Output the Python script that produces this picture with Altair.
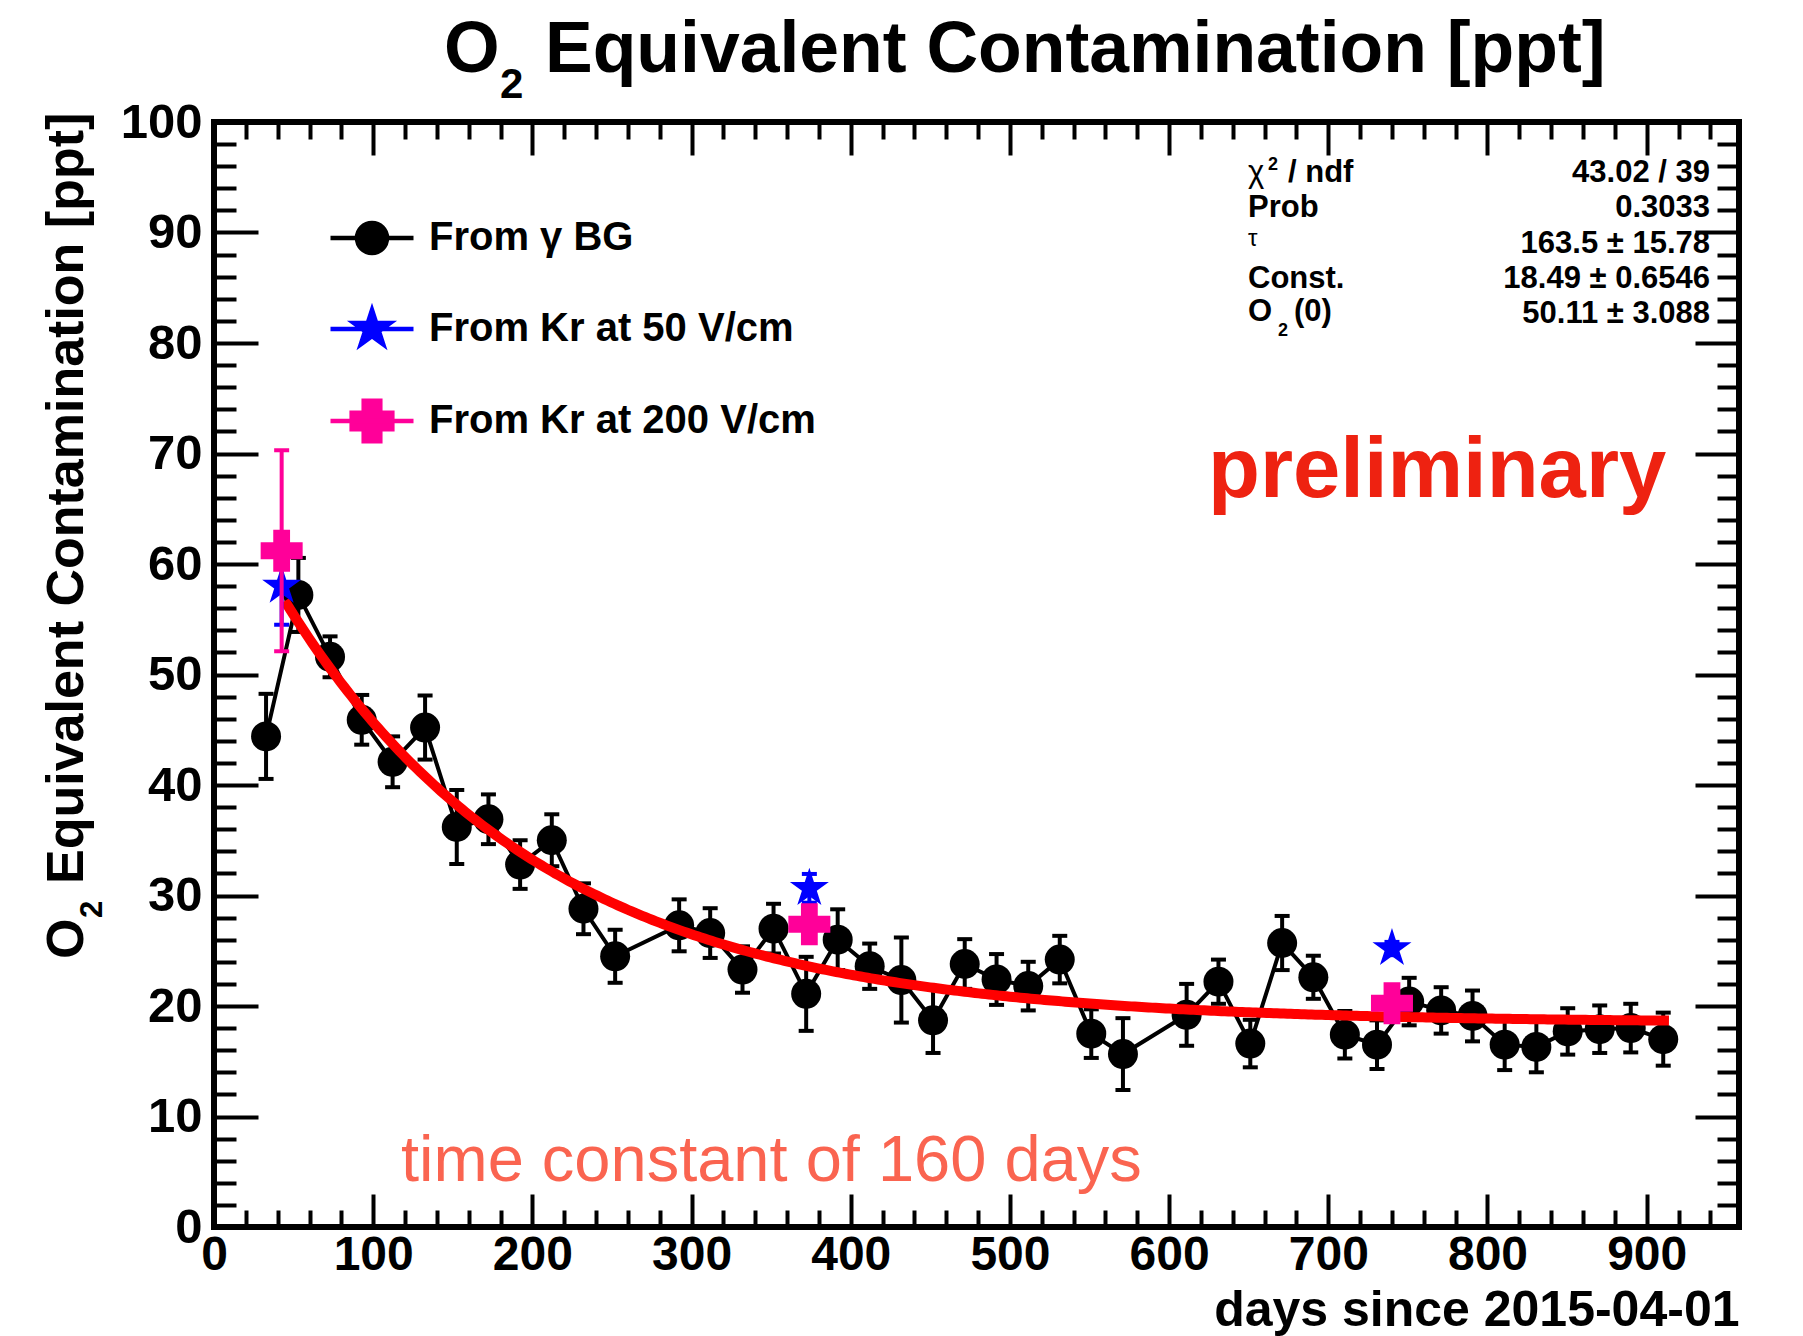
import altair as alt
import numpy as np
import pandas as pd

# ---- O2-equivalent contamination from the gamma background (20-day bins) ----
days_bg = [32.7, 53.0, 72.9, 92.8, 112.2, 132.6, 152.5, 172.4, 192.3, 212.2,
           232.1, 252.0, 292.2, 311.7, 332.0, 351.5, 372.0, 391.8, 411.9, 431.8,
           451.7, 471.6, 491.6, 511.5, 531.3, 551.1, 571.0, 611.0, 631.0, 651.0,
           671.0, 690.6, 710.4, 730.6, 750.8, 770.9, 790.6, 810.8, 830.7, 850.4,
           870.5, 890.0, 910.4]
o2_bg = [44.4, 57.2, 51.6, 45.9, 42.1, 45.2, 36.2, 36.9, 32.8, 35.0,
         28.8, 24.5, 27.3, 26.6, 23.3, 27.0, 21.1, 26.0, 23.6, 22.35,
         18.7, 23.8, 22.4, 21.8, 24.2, 17.5, 15.65, 19.2, 22.2, 16.6,
         25.7, 22.6, 17.4, 16.5, 20.4, 19.6, 19.1, 16.5, 16.3, 17.7,
         17.9, 18.0, 17.0]
err_bg = [3.85, 3.35, 1.85, 2.25, 2.3, 2.9, 3.35, 2.25, 2.2, 2.35,
          2.3, 2.4, 2.35, 2.25, 2.1, 2.25, 3.35, 2.75, 2.05, 3.85,
          2.95, 2.25, 2.3, 2.2, 2.15, 2.2, 3.25, 2.8, 2.0, 2.15,
          2.45, 1.95, 2.15, 2.2, 2.15, 2.1, 2.3, 2.3, 2.3, 2.1,
          2.15, 2.2, 2.4]

# ---- Kr calibration runs ----
days_kr50 = [42.5, 374.0, 740.0]
o2_kr50 = [58.0, 30.65, 25.2]
err_kr50 = [3.5, 1.3, 0.6]

days_kr200 = [42.5, 374.0, 740.0]
o2_kr200 = [61.2, 27.4, 20.25]
err_kr200 = [9.1, 1.0, 1.0]

# ---- exponential fit: Const + O2(0) * exp(-t / tau) ----
fit_tau = 163.5
fit_const = 18.49
fit_o2_0 = 50.11
fit_range = [44.5, 914.0]

# ---- axis ticks ----
x_major = list(range(0, 901, 100))
x_minor = [v for v in range(0, 960, 20) if v % 100]
y_major = list(range(0, 101, 10))
y_minor = [v for v in range(0, 101, 2) if v % 10]

legend_names = ["From \u03b3 BG", "From Kr at 50 V/cm", "From Kr at 200 V/cm"]
legend_colors = ["#000000", "#0000ff", "#ff0099"]

W, H = 1525, 1105
X_MAX = 958
FONT = "Liberation Sans"
BLUE, PINK = "#0000ff", "#ff0099"


def frame(days, vals, errs):
    return pd.DataFrame({
        "day": days, "o2": vals,
        "lo": [v - e for v, e in zip(vals, errs)],
        "hi": [v + e for v, e in zip(vals, errs)],
    })


bg = frame(days_bg, o2_bg, err_bg)
kr50 = frame(days_kr50, o2_kr50, err_kr50)
kr200 = frame(days_kr200, o2_kr200, err_kr200)

t_fit = np.linspace(fit_range[0], fit_range[1], 400)
fit_df = pd.DataFrame({"day": t_fit,
                       "o2": fit_const + fit_o2_0 * np.exp(-t_fit / fit_tau)})

xs = alt.Scale(domain=[0, X_MAX], nice=False, zero=False)
ys = alt.Scale(domain=[0, 100], nice=False, zero=False)


def inner_axis(orient, offset, values, size):
    # tick-only axis shifted onto the opposite frame edge so ticks point inward
    return alt.Axis(orient=orient, offset=offset, values=values, tickSize=size,
                    tickWidth=4, tickColor="black", ticks=True, labels=False,
                    domain=False, grid=False, title=None)


x_label_axis = alt.Axis(
    orient="bottom", values=x_major, format="d", ticks=False, tickSize=0,
    domain=False, grid=False, labelFont=FONT, labelFontSize=48,
    labelFontWeight="bold", labelColor="black", labelPadding=4,
    labelFlush=False, labelOverlap=False,
    title="days since 2015-04-01", titleFont=FONT, titleFontSize=50,
    titleFontWeight="bold", titleColor="black", titleAlign="right",
    titleAnchor="end", titleX=W, titleY=98, titleBaseline="alphabetic")

y_label_axis = alt.Axis(
    orient="left", values=y_major, format="d", ticks=False, tickSize=0,
    domain=False, grid=False, labelFont=FONT, labelFontSize=49,
    labelFontWeight="bold", labelColor="black", labelPadding=12,
    labelOverlap=False, title=None)


def no_axis_xy(chart, y="o2:Q", y2=None):
    enc = dict(x=alt.X("day:Q", scale=xs, axis=None),
               y=alt.Y(y, scale=ys, axis=None))
    if y2:
        enc["y2"] = y2
    return chart.encode(**enc)


# background series: error bars, connecting line, markers (carry the tick axes)
bg_rule = alt.Chart(bg).mark_rule(color="black", strokeWidth=4).encode(
    x=alt.X("day:Q", scale=xs, axis=inner_axis("top", -H, x_major, 33)),
    y=alt.Y("lo:Q", scale=ys, axis=inner_axis("right", -W, y_major, 44)),
    y2="hi:Q")
bg_cap_hi = alt.Chart(bg).mark_tick(orient="horizontal", size=15, thickness=4,
                                    color="black", opacity=1).encode(
    x=alt.X("day:Q", scale=xs, axis=inner_axis("top", -H, x_minor, 17)),
    y=alt.Y("hi:Q", scale=ys, axis=inner_axis("right", -W, y_minor, 22)))
bg_cap_lo = alt.Chart(bg).mark_tick(orient="horizontal", size=15, thickness=4,
                                    color="black", opacity=1).encode(
    x=alt.X("day:Q", scale=xs, axis=inner_axis("bottom", -H, x_major, 33)),
    y=alt.Y("lo:Q", scale=ys, axis=inner_axis("left", -W, y_major, 44)))
bg_line = alt.Chart(bg).mark_line(color="black", strokeWidth=4).encode(
    x=alt.X("day:Q", scale=xs, axis=inner_axis("bottom", -H, x_minor, 17)),
    y=alt.Y("o2:Q", scale=ys, axis=inner_axis("left", -W, y_minor, 22)))
bg_pts = no_axis_xy(alt.Chart(bg).mark_point(shape="circle", filled=True,
                                             size=900, color="black", opacity=1))

fit_line = alt.Chart(fit_df).mark_line(color="#ff0000", strokeWidth=10).encode(
    x=alt.X("day:Q", scale=xs, axis=x_label_axis),
    y=alt.Y("o2:Q", scale=ys, axis=y_label_axis))


def star_path(r, with_line=False):
    pts = []
    for k in range(10):
        ang = np.deg2rad(-90 + 36 * k)
        rad = r if k % 2 == 0 else r * 0.382
        pts.append((rad * np.cos(ang), rad * np.sin(ang)))
    p = "M" + "L".join(f"{x:.4f},{y:.4f}" for x, y in pts) + "Z"
    return ("M-1,0L1,0" + p) if with_line else p


def cross_path(a, b):
    return (f"M-1,0L1,0M{-a},{-b}L{-b},{-b}L{-b},{-a}L{b},{-a}L{b},{-b}L{a},{-b}"
            f"L{a},{b}L{b},{b}L{b},{a}L{-b},{a}L{-b},{b}L{-a},{b}Z")


circle_line = ("M-1,0L1,0M-0.3614,0A0.3614,0.3614,0,1,1,0.3614,0"
               "A0.3614,0.3614,0,1,1,-0.3614,0Z")
legend_paths = [circle_line, star_path(0.46, True), cross_path(0.49, 0.2)]

STAR = star_path(1.0)


def kr_layers(df, color, shape, size):
    rule = no_axis_xy(alt.Chart(df).mark_rule(color=color, strokeWidth=4),
                      y="lo:Q", y2="hi:Q")
    cap_hi = no_axis_xy(alt.Chart(df).mark_tick(orient="horizontal", size=15,
                                                thickness=4, color=color,
                                                opacity=1), y="hi:Q")
    cap_lo = no_axis_xy(alt.Chart(df).mark_tick(orient="horizontal", size=15,
                                                thickness=4, color=color,
                                                opacity=1), y="lo:Q")
    pts = no_axis_xy(alt.Chart(df).mark_point(shape=shape, filled=True,
                                              size=size, color=color,
                                              opacity=1))
    return [rule, cap_hi, cap_lo, pts]


leg_props = dict(orient="none", legendX=114, legendY=72, title=None,
                 labelFont=FONT, labelFontSize=40, labelFontWeight="bold",
                 labelColor="black", labelLimit=800, labelOffset=13,
                 symbolSize=6889, symbolStrokeWidth=4.5, symbolOpacity=1,
                 rowPadding=23, padding=0)
legend_layer = alt.Chart(pd.DataFrame({"entry": legend_names})).mark_point(
    filled=True, opacity=0).encode(
    color=alt.Color("entry:N", scale=alt.Scale(domain=legend_names,
                                               range=legend_colors),
                    legend=alt.Legend(**leg_props)),
    stroke=alt.Stroke("entry:N", scale=alt.Scale(domain=legend_names,
                                                 range=legend_colors),
                      legend=alt.Legend(**leg_props)),
    shape=alt.Shape("entry:N", scale=alt.Scale(domain=legend_names,
                                               range=legend_paths),
                    legend=alt.Legend(**leg_props)))


def text_layer(text, x, y, size, weight="bold", align="left", color="black",
               angle=0):
    mark = dict(align=align, baseline="alphabetic", font=FONT, fontSize=size,
                fontWeight=weight, color=color)
    if angle:
        mark["angle"] = angle
    return alt.Chart(pd.DataFrame({"t": [text]})).mark_text(**mark).encode(
        text="t:N", x=alt.value(x), y=alt.value(y))


texts = [
    # main title
    text_layer("O", 230, -50, 71.5),
    text_layer("2", 286, -24, 42),
    text_layer("Equivalent Contamination [ppt]", 331, -50, 71.5),
    # y-axis title
    text_layer("O", -131, 837, 52, angle=270),
    text_layer("2", -112, 796, 31, angle=270),
    text_layer("Equivalent Contamination [ppt]", -131, 762, 52, angle=270),
    # annotations
    text_layer("preliminary", 994, 375, 85, color="#ee2211"),
    text_layer("time constant of 160 days", 187, 1059, 65, weight="normal",
               color="#fa6450"),
    # fit statistics
    text_layer("\u03c7", 1034, 60, 31, weight="normal"),
    text_layer("2", 1054, 48, 18),
    text_layer("/ ndf", 1074, 60, 31),
    text_layer("43.02 / 39", 1496, 60, 31, align="right"),
    text_layer("Prob", 1034, 95, 31),
    text_layer("0.3033", 1496, 95, 31, align="right"),
    text_layer("\u03c4", 1034, 124, 24, weight="normal"),
    text_layer("163.5  \u00b1 15.78", 1496, 131, 31, align="right"),
    text_layer("Const.", 1034, 166, 31),
    text_layer("18.49  \u00b1 0.6546", 1496, 166, 31, align="right"),
    text_layer("O", 1034, 199, 31),
    text_layer("2", 1064, 214, 18),
    text_layer("(0)", 1080, 199, 31),
    text_layer("50.11 \u00b1 3.088", 1496, 201, 31, align="right"),
]

layers = ([bg_rule, bg_cap_hi, bg_cap_lo, bg_line, bg_pts, fit_line]
          + kr_layers(kr50, BLUE, STAR, 1680)
          + kr_layers(kr200, PINK, "cross", 1764)
          + [legend_layer] + texts)

chart = alt.layer(*layers).resolve_axis(
    x="independent", y="independent"
).properties(
    width=W, height=H,
    autosize=alt.AutoSizeParams(type="none"),
    padding={"left": 214, "top": 122, "right": 64, "bottom": 109},
    background="white",
).configure_view(stroke="black", strokeWidth=6)

chart.save("out.html", embed_options={"renderer": "svg", "actions": False})
